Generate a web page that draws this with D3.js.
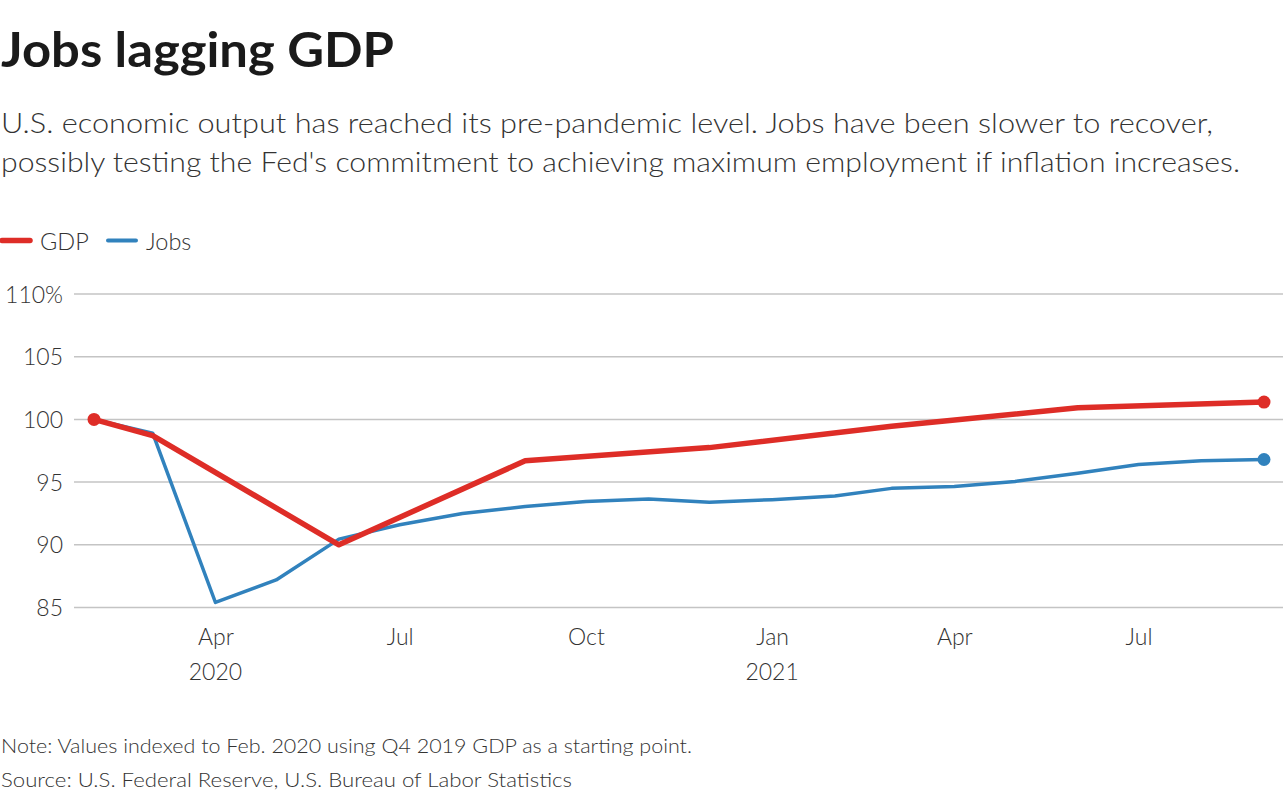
<!DOCTYPE html>
<html>
<head>
<meta charset="utf-8">
<script src="https://cdn.jsdelivr.net/npm/d3@7"></script>
<style>
  body { margin: 0; background: #fff; }
  svg { display: block; }
  text { font-family: "Source Sans Pro", Lato, "Noto Sans", sans-serif; }
</style>
</head>
<body>
<svg id="chart" width="1288" height="800"></svg>
<script>
const title = "Jobs lagging GDP";
const subtitleLines = [
  "U.S. economic output has reached its pre-pandemic level. Jobs have been slower to recover,",
  "possibly testing the Fed's commitment to achieving maximum employment if inflation increases."
];
const noteLines = [
  "Note: Values indexed to Feb. 2020 using Q4 2019 GDP as a starting point.",
  "Source: U.S. Federal Reserve, U.S. Bureau of Labor Statistics"
];

const seriesNames = ["GDP", "Jobs"];
const seriesColors = ["#de2d27", "#3182bd"];

const gdpDates = ["2020-02", "2020-03", "2020-06", "2020-09", "2020-12", "2021-03", "2021-06", "2021-09"];
const gdpValues = [100, 98.7, 90.0, 96.7, 97.75, 99.45, 100.93, 101.38];

const jobsDates = ["2020-02","2020-03","2020-04","2020-05","2020-06","2020-07","2020-08","2020-09","2020-10","2020-11","2020-12",
                   "2021-01","2021-02","2021-03","2021-04","2021-05","2021-06","2021-07","2021-08","2021-09"];
const jobsValues = [100, 98.9, 85.4, 87.2, 90.45, 91.6, 92.5, 93.05, 93.45, 93.65, 93.4,
                    93.6, 93.9, 94.5, 94.65, 95.05, 95.7, 96.4, 96.7, 96.8];

const yTicks = [85, 90, 95, 100, 105, 110];
const xTickDates = ["2020-04", "2020-07", "2020-10", "2021-01", "2021-04", "2021-07"];
const xTickLabels = ["Apr", "Jul", "Oct", "Jan", "Apr", "Jul"];
const xYearLabels = ["2020", "", "", "2021", "", ""];

const parse = d3.timeParse("%Y-%m");
const svg = d3.select("#chart");

const x = d3.scaleTime()
  .domain([parse("2020-02"), parse("2021-09")])
  .range([94, 1264]);
const y = d3.scaleLinear()
  .domain([85, 110])
  .range([607.5, 294]);

// Title and subtitle
svg.append("text").attr("x", 1).attr("y", 67)
  .attr("font-size", 47).attr("font-weight", 700).attr("fill", "#1a1a1a")
  .attr("textLength", 393).attr("lengthAdjust", "spacingAndGlyphs")
  .text(title);

const subWidths = [1212, 1239];
subtitleLines.forEach((t, i) => {
  svg.append("text").attr("x", 1).attr("y", 133 + i * 39)
    .attr("font-size", 27).attr("font-weight", 300).attr("fill", "#333")
    .attr("textLength", subWidths[i]).attr("lengthAdjust", "spacingAndGlyphs")
    .text(t);
});

// Legend
const legendItems = [
  { name: seriesNames[0], color: seriesColors[0], x0: 0, w: 5.5, tx: 40 },
  { name: seriesNames[1], color: seriesColors[1], x0: 106, w: 4, tx: 146 }
];
legendItems.forEach(d => {
  svg.append("line").attr("x1", d.x0 + 2).attr("x2", d.x0 + 30).attr("y1", 240.5).attr("y2", 240.5)
    .attr("stroke", d.color).attr("stroke-width", d.w).attr("stroke-linecap", "round");
  svg.append("text").attr("x", d.tx).attr("y", 250)
    .attr("font-size", 23.5).attr("font-weight", 300).attr("fill", "#333")
    .text(d.name);
});

// Gridlines and y labels
const yAxis = d3.axisLeft(y).tickValues(yTicks).tickSize(0)
  .tickFormat(d => d === 110 ? "110%" : d);
const gy = svg.append("g").attr("transform", "translate(63,0)").call(yAxis);
gy.select(".domain").remove();
gy.selectAll("text").attr("font-size", 23).attr("font-weight", 300).attr("fill", "#333")
  .attr("dx", 0).attr("x", 0).attr("dy", "0.35em").attr("font-family", null);

svg.append("g").selectAll("line").data(yTicks).join("line")
  .attr("x1", 74).attr("x2", 1283)
  .attr("y1", d => y(d)).attr("y2", d => y(d))
  .attr("stroke", "#c4c4c4").attr("stroke-width", 1.5);

// X axis
const xAxis = d3.axisBottom(x).tickValues(xTickDates.map(parse)).tickSize(0)
  .tickFormat((d, i) => xTickLabels[i]);
const gx = svg.append("g").attr("transform", "translate(0,629)").call(xAxis);
gx.select(".domain").remove();
gx.selectAll("text").attr("font-size", 23).attr("font-weight", 300).attr("fill", "#333")
  .attr("y", 0).attr("dy", "0.71em").attr("font-family", null);

svg.append("g").selectAll("text").data(xTickDates.map((d, i) => ({ d: parse(d), t: xYearLabels[i] })).filter(o => o.t))
  .join("text")
  .attr("x", o => x(o.d)).attr("y", 680)
  .attr("text-anchor", "middle")
  .attr("font-size", 23).attr("font-weight", 300).attr("fill", "#333")
  .text(o => o.t);

// Lines
const line = d3.line().x(d => x(d.date)).y(d => y(d.value));
const jobs = jobsDates.map((d, i) => ({ date: parse(d), value: jobsValues[i] }));
const gdp = gdpDates.map((d, i) => ({ date: parse(d), value: gdpValues[i] }));

svg.append("path").datum(jobs).attr("d", line)
  .attr("fill", "none").attr("stroke", seriesColors[1]).attr("stroke-width", 3.5)
  .attr("stroke-linejoin", "round");
svg.append("path").datum(gdp).attr("d", line)
  .attr("fill", "none").attr("stroke", seriesColors[0]).attr("stroke-width", 5.5)
  .attr("stroke-linejoin", "round");

// end dots
svg.append("circle").attr("cx", x(gdp[0].date)).attr("cy", y(gdp[0].value)).attr("r", 6.5).attr("fill", seriesColors[0]);
svg.append("circle").attr("cx", x(gdp[gdp.length - 1].date)).attr("cy", y(gdp[gdp.length - 1].value)).attr("r", 6.5).attr("fill", seriesColors[0]);
svg.append("circle").attr("cx", x(jobs[jobs.length - 1].date)).attr("cy", y(jobs[jobs.length - 1].value)).attr("r", 6.5).attr("fill", seriesColors[1]);

// Notes
const noteWidths = [691, 571];
noteLines.forEach((t, i) => {
  svg.append("text").attr("x", 1).attr("y", 753 + i * 34)
    .attr("font-size", 20.5).attr("font-weight", 300).attr("fill", "#333")
    .attr("textLength", noteWidths[i]).attr("lengthAdjust", "spacingAndGlyphs")
    .text(t);
});
</script>
</body>
</html>
